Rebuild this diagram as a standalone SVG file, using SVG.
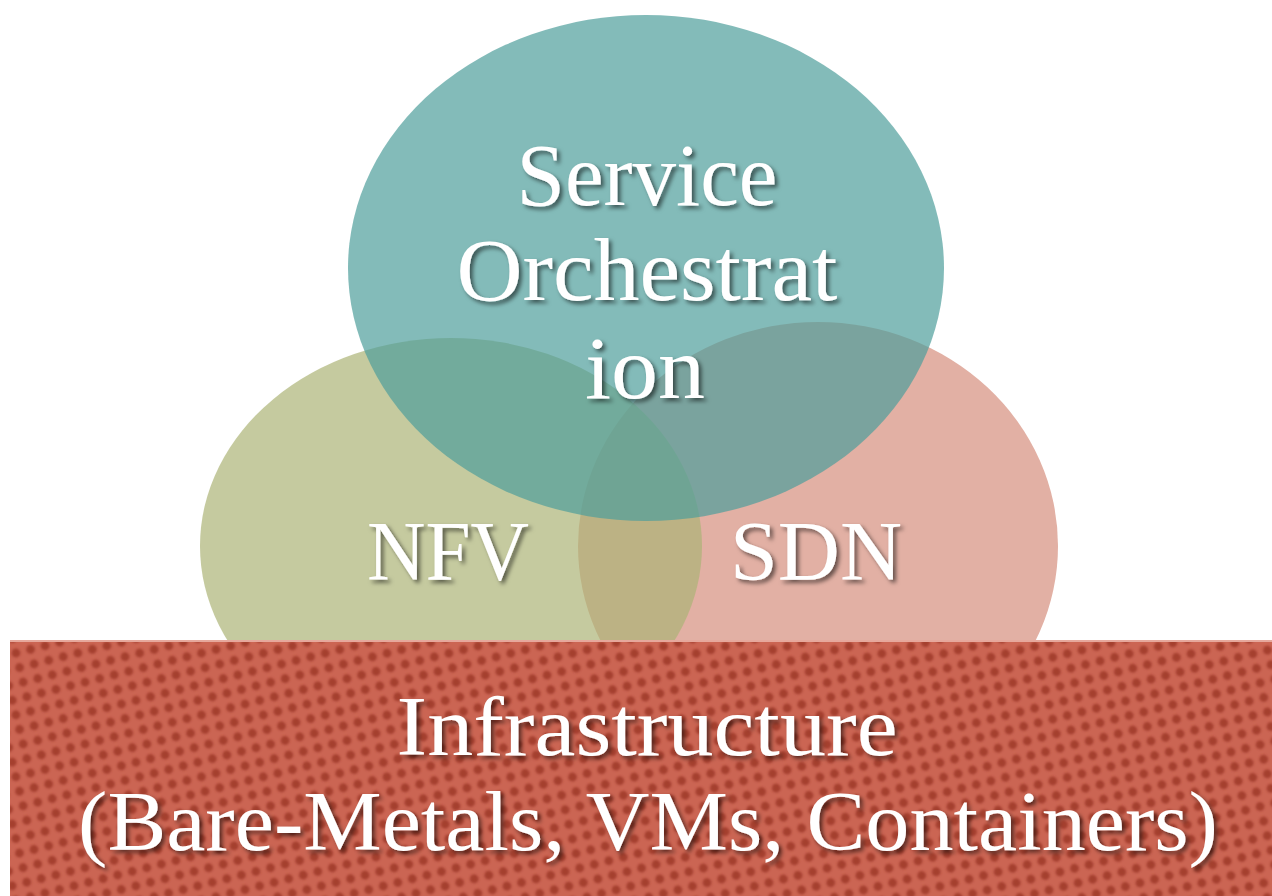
<svg xmlns="http://www.w3.org/2000/svg" width="1272" height="896" viewBox="0 0 1272 896">
  <defs>
    <filter id="shadow" x="-10%" y="-30%" width="120%" height="160%">
      <feDropShadow dx="3" dy="3" stdDeviation="2" flood-color="#000" flood-opacity="0.55"/>
    </filter>
    <filter id="soft" x="-50%" y="-50%" width="200%" height="200%">
      <feGaussianBlur stdDeviation="1.1"/>
    </filter>
    <pattern id="dots" width="15" height="15" patternUnits="userSpaceOnUse" patternTransform="rotate(-14)">
      <rect width="15" height="15" fill="#cb6553"/>
      <circle cx="7.5" cy="7.5" r="4.4" fill="#a53f2f" filter="url(#soft)"/>
    </pattern>
    <style>
      .lbl { font-family: "Liberation Serif", "DejaVu Serif", serif; fill: #ffffff; text-anchor: middle; filter: url(#shadow); }
    </style>
  </defs>
  <rect width="1272" height="896" fill="#ffffff"/>

  <g id="sdn">
    <ellipse cx="818" cy="546" rx="240" ry="224" fill="#e2b0a4"/>
    <text class="lbl" x="816" y="580" font-size="84" textLength="172" lengthAdjust="spacingAndGlyphs">SDN</text>
  </g>

  <g id="nfv">
    <ellipse cx="451" cy="546" rx="251" ry="208" fill="#acb376" fill-opacity="0.7"/>
    <text class="lbl" x="448" y="580" font-size="84" textLength="162" lengthAdjust="spacingAndGlyphs">NFV</text>
  </g>

  <g id="service-orchestration">
    <ellipse cx="646" cy="268" rx="298" ry="253" fill="#4f9e9b" fill-opacity="0.7"/>
    <text class="lbl" x="647" y="205" font-size="88" textLength="261" lengthAdjust="spacingAndGlyphs">Service</text>
    <text class="lbl" x="647" y="300" font-size="88" textLength="381" lengthAdjust="spacingAndGlyphs">Orchestrat</text>
    <text class="lbl" x="645" y="398" font-size="88" textLength="120" lengthAdjust="spacingAndGlyphs">ion</text>
  </g>

  <g id="infrastructure">
    <rect x="10" y="640" width="1262" height="256" fill="url(#dots)"/>
    <rect x="10" y="640" width="1262" height="2" fill="#e6a89c"/>
    <text class="lbl" x="647" y="755" font-size="84" textLength="501" lengthAdjust="spacingAndGlyphs">Infrastructure</text>
    <text class="lbl" x="648" y="850" font-size="84" textLength="1140" lengthAdjust="spacingAndGlyphs">(Bare-Metals, VMs, Containers)</text>
  </g>
</svg>
